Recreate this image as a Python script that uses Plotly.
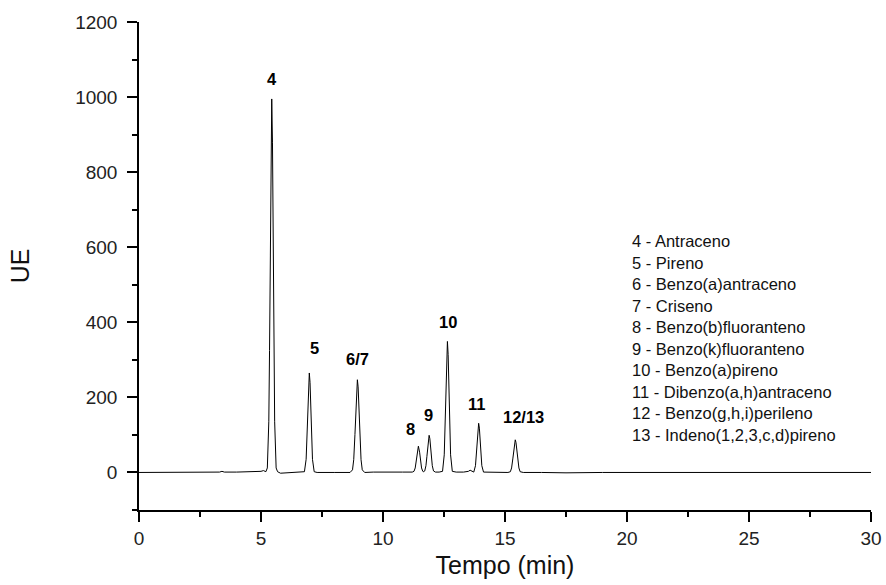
import plotly.graph_objects as go

# ---- Chromatogram data (time in min, signal in UE) ----
time = [0.0, 1.0, 1.5, 2.0, 2.5, 3.0, 3.3, 3.4, 3.5, 4.0, 4.6, 5.0, 5.1, 5.2,
        5.26, 5.32, 5.35, 5.38, 5.41, 5.44, 5.47, 5.50, 5.53, 5.56, 5.62, 5.68, 5.8, 6.2, 6.6,
        6.78, 6.85, 6.89, 6.92, 6.95, 6.98, 7.01, 7.04, 7.07, 7.11, 7.18, 7.30, 8.0, 8.65,
        8.75, 8.80, 8.85, 8.89, 8.92, 8.95, 8.98, 9.01, 9.05, 9.10, 9.15, 9.25, 9.6, 10.2, 10.8, 11.2,
        11.27, 11.32, 11.36, 11.40, 11.45, 11.50, 11.54, 11.58, 11.63, 11.67,
        11.71, 11.76, 11.80, 11.83, 11.86, 11.89, 11.92, 11.95, 11.98, 12.02, 12.07, 12.15, 12.30,
        12.44, 12.51, 12.55, 12.58, 12.61, 12.64, 12.67, 12.70, 12.73, 12.77, 12.84, 13.0,
        13.3, 13.5, 13.57, 13.64, 13.72,
        13.79, 13.83, 13.86, 13.89, 13.92, 13.95, 13.98, 14.01, 14.05, 14.12, 14.5, 15.12,
        15.22, 15.27, 15.32, 15.36, 15.39, 15.42, 15.45, 15.48, 15.52, 15.57, 15.62, 15.75,
        16.5, 17.5, 19.0, 21.0, 22.1, 22.2, 22.3, 24.0, 27.0, 29.0, 30.0]
signal = [0, 0, 1, 2, 1, 1, 1, 3, 1, 1, 2, 3, 5, 2,
          12, 135, 325, 605, 880, 995, 880, 605, 325, 135, 12, 2, -2, -1, 0,
          2, 35, 100, 173, 240, 265, 240, 173, 100, 35, 2, 0, 0, 0,
          7, 34, 101, 178, 228, 247, 228, 178, 101, 34, 7, 0, 1, 0, 1, 1,
          3, 12, 31, 54, 70, 54, 31, 12, 3, 2,
          4, 18, 43, 69, 90, 99, 90, 69, 43, 18, 4, 1, 1,
          3, 47, 134, 228, 314, 349, 314, 228, 134, 47, 3, 1,
          1, 3, 6, 3, 1,
          18, 50, 86, 118, 131, 118, 86, 50, 18, 1, 0, 0,
          2, 12, 36, 63, 80, 87, 80, 63, 36, 12, 2, 0,
          0, -1, 0, 0, 0, 2, 0, 0, 0, 0, 0]

# ---- Peak labels ----
peak_labels = ["4", "5", "6/7", "8", "9", "10", "11", "12/13"]
peak_label_x = [5.44, 7.21, 8.95, 11.13, 11.86, 12.65, 13.84, 15.75]
peak_label_y = [1047, 332, 303, 116, 152, 401, 183, 149]

# ---- Compound list ----
compounds = ["4 - Antraceno", "5 - Pireno", "6 - Benzo(a)antraceno", "7 - Criseno",
             "8 - Benzo(b)fluoranteno", "9 - Benzo(k)fluoranteno", "10 - Benzo(a)pireno",
             "11 - Dibenzo(a,h)antraceno", "12 - Benzo(g,h,i)perileno",
             "13 - Indeno(1,2,3,c,d)pireno"]

x_ticks = [0, 5, 10, 15, 20, 25, 30]
y_ticks = [0, 200, 400, 600, 800, 1000, 1200]

FONT = "Arial, Liberation Sans, sans-serif"

fig = go.Figure()
fig.add_trace(go.Scatter(x=time, y=signal, mode="lines",
                         line=dict(color="black", width=1), showlegend=False,
                         hoverinfo="skip"))

for lab, lx, ly in zip(peak_labels, peak_label_x, peak_label_y):
    fig.add_annotation(x=lx, y=ly, text=f"<b>{lab}</b>", showarrow=False,
                       font=dict(family=FONT, size=16.5, color="black"))

for i, c in enumerate(compounds):
    fig.add_annotation(x=20.12, y=616 - 57.3 * i, text=c, showarrow=False,
                       xanchor="left", yanchor="middle",
                       font=dict(family=FONT, size=16.5, color="#111"))

fig.update_layout(
    width=886, height=585,
    margin=dict(l=139, r=15, t=22, b=75),
    plot_bgcolor="white", paper_bgcolor="white",
    font=dict(family=FONT, color="black"),
    xaxis=dict(range=[0, 30], tickvals=x_ticks, showline=True, linecolor="black",
               linewidth=1.5, ticks="outside", ticklen=10, tickwidth=1.5,
               tickcolor="black", showgrid=False, zeroline=False, automargin=False,
               tickfont=dict(size=19, family=FONT, color="#222"),
               minor=dict(dtick=2.5, ticks="outside", ticklen=5, tickwidth=1.5,
                          tickcolor="black", showgrid=False),
               title=dict(text="Tempo (min)", font=dict(size=25, family=FONT, color="#111"),
                          standoff=9)),
    yaxis=dict(range=[-100, 1200], tickvals=y_ticks, showline=True, linecolor="black",
               linewidth=1.5, ticks="outside", ticklen=10, tickwidth=1.5,
               tickcolor="black", showgrid=False, zeroline=False, automargin=False,
               ticklabelstandoff=6,
               tickfont=dict(size=19, family=FONT, color="#222"),
               minor=dict(dtick=100, ticks="outside", ticklen=5, tickwidth=1.5,
                          tickcolor="black", showgrid=False),
               title=dict(text="UE", font=dict(size=25, family=FONT, color="#111"),
                          standoff=38)),
)

fig.write_html("out.html")
